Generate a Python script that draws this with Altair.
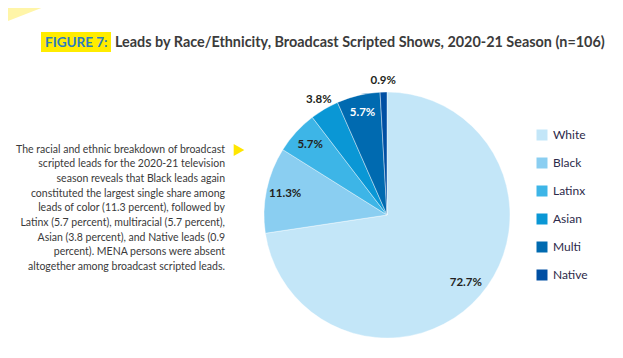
import altair as alt
import pandas as pd

# ---- data ----
groups = ["White", "Black", "Latinx", "Asian", "Multi", "Native"]
shares = [72.7, 11.3, 5.7, 3.8, 5.7, 0.9]
colors = ["#C3E6F8", "#8ACEF1", "#3DB5E7", "#0A97D5", "#006AB0", "#004FA3"]
inside_dark = ["White", "Black", "Latinx"]
inside_light = ["Multi"]
outside = ["Asian", "Native"]

fig_label = "FIGURE 7:"
title_text = "Leads by Race/Ethnicity, Broadcast Scripted Shows, 2020-21 Season (n=106)"
note_lines = [
    "The racial and ethnic breakdown of broadcast",
    "scripted leads for the 2020-21 television",
    "season reveals that Black leads again",
    "constituted the largest single share among",
    "leads of color (11.3 percent), followed by",
    "Latinx (5.7 percent), multiracial (5.7 percent),",
    "Asian (3.8 percent), and Native leads (0.9",
    "percent). MENA persons were absent",
    "altogether among broadcast scripted leads.",
]

df = pd.DataFrame({"group": groups, "share": shares, "idx": list(range(len(groups)))})

FONT = "Lato"
CX, CY, R = 379, 207, 123

base = alt.Chart(df).transform_calculate(
    label="format(datum.share, '.1f') + '%'"
)

theta = alt.Theta("share:Q", stack=True)
order = alt.Order("idx:Q", sort="ascending")

pie = base.mark_arc(outerRadius=R, stroke="white", strokeWidth=0.4).encode(
    theta=theta,
    order=order,
    color=alt.Color(
        "group:N",
        scale=alt.Scale(domain=groups, range=colors),
        sort=groups,
        legend=alt.Legend(
            title=None,
            orient="none",
            legendX=528,
            legendY=121,
            symbolType="square",
            symbolSize=121,
            symbolStrokeWidth=0,
            labelFont=FONT,
            labelFontSize=12,
            labelColor="#2d2a4a",
            labelOffset=5,
            rowPadding=16,
        ),
    ),
    x=alt.value(CX),
    y=alt.value(CY),
)

def label_layer(names, radius, color):
    return base.mark_text(
        font=FONT, fontSize=11.5, fontWeight="bold", radius=radius, color=color
    ).encode(
        theta=theta,
        order=order,
        text="label:N",
        opacity=alt.condition(
            alt.FieldOneOfPredicate(field="group", oneOf=names), alt.value(1), alt.value(0)
        ),
        x=alt.value(CX),
        y=alt.value(CY),
    )

lab_in = label_layer(inside_dark, 104, "#231f20")
lab_light = label_layer(inside_light, 105, "#ffffff")
lab_out = label_layer(outside, 134, "#231f20")

one = alt.Chart(pd.DataFrame({"k": [0]}))

wedge = one.mark_point(
    shape="M0,0 L1,0 L0,0.387 Z", filled=True, opacity=1, strokeWidth=0, color="#FFF5A8"
).encode(x=alt.value(-8), y=alt.value(-8), size=alt.value(15376))

hl = one.mark_rect(color="#FFEC00").encode(
    x=alt.value(33), x2=alt.value(103), y=alt.value(24), y2=alt.value(44)
)
fig_txt = one.mark_text(
    font=FONT, fontSize=13.5, fontWeight="bold", color="#2B7BC0", align="left", baseline="middle"
).encode(x=alt.value(37), y=alt.value(35), text=alt.value(fig_label))
title_txt = one.mark_text(
    font=FONT, fontSize=14.4, fontWeight="bold", color="#3b3b3b", align="left", baseline="middle"
).encode(x=alt.value(107), y=alt.value(35), text=alt.value(title_text))

note = one.mark_text(
    font=FONT, fontSize=10.5, color="#3a3a3a", align="right", baseline="middle", lineHeight=14.7
).encode(x=alt.value(217), y=alt.value(141.5), text=alt.value(note_lines))

arrow = one.mark_point(
    shape="triangle-right", filled=True, opacity=1, strokeWidth=0, color="#FFE600"
).encode(x=alt.value(231), y=alt.value(142), size=alt.value(150))

chart = alt.layer(
    wedge, hl, fig_txt, title_txt, note, arrow, pie, lab_in, lab_light, lab_out
).properties(
    width=607,
    height=342,
    autosize=alt.AutoSizeParams(type="none"),
    padding=0,
    background="white",
).configure_view(stroke=None)

chart.save("out.html", embed_options={"renderer": "svg", "actions": False})
